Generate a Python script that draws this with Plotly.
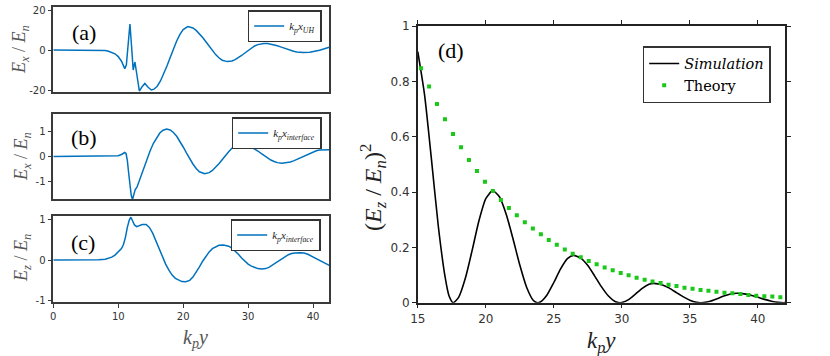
import plotly.graph_objects as go

# ---- data ----
# (a) E_x/E_n, k_p x_UH
ya_x = [0, 4, 7, 8, 8.5, 9, 9.5, 10, 10.5, 10.8, 11.0, 11.25, 11.5, 11.8, 12.05, 12.3, 12.57, 12.83, 13.05, 13.25,
        13.7, 14.1, 14.6, 15.1, 15.5, 16, 16.5, 17, 17.5, 18, 18.5, 19, 19.5, 20, 20.7, 21.5, 22, 22.5, 23, 23.5,
        24, 24.5, 25, 25.5, 26, 26.8, 27.5, 28, 28.5, 29, 29.5, 30, 30.5, 31, 31.5, 32.4, 33, 33.5, 34, 34.5,
        35, 35.5, 36, 36.5, 37, 37.5, 38.5, 39.5, 40, 40.5, 41, 41.5, 42, 42.5]
ya_val = [0, 0, -0.1, -0.3, -0.6, -1.1, -1.9, -3.3, -5.6, -7.8, -9.3, -7.5, 1, 13, 2, -10, -6, -10.8, -15, -20.5,
          -18.2, -16.7, -18.6, -20, -19.6, -18.1, -15.5, -12.1, -8.0, -3.7, 0.6, 4.5, 7.8, 10.2, 11.7, 11.0, 9.8, 8.2, 6.25, 4.1,
          1.8, -0.35, -2.3, -3.9, -5.1, -5.8, -5.45, -4.8, -3.9, -2.75, -1.5, -0.25, 0.95, 2.0, 2.7, 3.3, 3.2, 2.95, 2.55, 2.1,
          1.55, 0.95, 0.35, -0.2, -0.65, -1.0, -1.3, -1.15, -0.9, -0.55, -0.1, 0.4, 0.9, 1.4]

# (b) E_x/E_n, k_p x_interface
yb_x = [0, 9, 9.5, 10, 10.5, 11.0, 11.2, 11.4, 11.6, 11.8, 12.0, 12.2, 12.4, 12.6, 12.9, 13.2, 13.6, 14.0, 14.4, 14.9,
        15.4, 15.9, 16.4, 16.9, 17.45, 18, 18.5, 19, 19.5, 20, 20.5, 21, 21.5, 22, 22.5, 23.3, 24, 24.5, 25, 25.5,
        26, 26.5, 27, 27.5, 28, 28.9, 29.5, 30, 30.5, 31, 31.5, 32, 32.5, 33, 33.5, 34, 34.5, 35.2, 36, 36.5,
        37, 37.5, 38, 38.5, 39, 39.5, 40, 40.5, 41, 41.8, 42.5]
yb_val = [0, 0, 0.01, 0.03, 0.08, 0.16, 0.12, -0.15, -0.65, -1.15, -1.55, -1.72, -1.45, -1.33, -1.22, -1.0, -0.7, -0.42, -0.13, 0.22,
          0.52, 0.76, 0.94, 1.05, 1.1, 1.06, 0.96, 0.81, 0.61, 0.38, 0.145, -0.09, -0.3, -0.48, -0.61, -0.69, -0.645, -0.56, -0.44, -0.29,
          -0.13, 0.04, 0.19, 0.33, 0.43, 0.5, 0.48, 0.44, 0.38, 0.31, 0.22, 0.125, 0.03, -0.06, -0.14, -0.2, -0.245, -0.27, -0.25, -0.22,
          -0.175, -0.12, -0.06, 0.005, 0.07, 0.13, 0.185, 0.23, 0.26, 0.28, 0.27]

# (c) E_z/E_n, k_p x_interface
yc_x = [0, 6, 7, 8, 8.5, 9, 9.5, 10, 10.5, 10.8, 11.1, 11.4, 11.7, 11.95, 12.2, 12.5, 12.83, 13.2, 13.7, 14.3,
        14.8, 15.3, 15.8, 16.3, 16.8, 17.3, 17.8, 18.3, 18.8, 19.3, 19.8, 20.4, 21, 21.5, 22, 22.5, 23, 23.5, 24, 24.5,
        25, 25.5, 26.2, 27, 27.5, 28, 28.5, 29, 29.5, 30, 30.5, 31, 31.5, 32.1, 32.7, 33.2, 33.7, 34.2, 34.7, 35.2,
        35.7, 36.2, 36.7, 37.2, 38.0, 38.6, 39.2, 39.7, 40.2, 40.7, 41.2, 41.7, 42.5]
yc_val = [0, 0, 0.005, 0.02, 0.04, 0.07, 0.12, 0.19, 0.28, 0.38, 0.55, 0.8, 0.98, 1.05, 0.96, 0.86, 0.82, 0.84, 0.87, 0.87,
          0.8, 0.66, 0.47, 0.27, 0.08, -0.1, -0.25, -0.37, -0.45, -0.5, -0.53, -0.535, -0.5, -0.42, -0.31, -0.17, -0.03, 0.1, 0.2, 0.28,
          0.33, 0.36, 0.37, 0.34, 0.29, 0.22, 0.14, 0.05, -0.03, -0.1, -0.15, -0.19, -0.21, -0.22, -0.21, -0.18, -0.13, -0.08, -0.02, 0.04,
          0.09, 0.13, 0.16, 0.175, 0.18, 0.17, 0.14, 0.1, 0.06, 0.01, -0.03, -0.08, -0.13]

# (d) (E_z/E_n)^2 simulation and theory
sim_x = [15, 15.5, 16, 16.5, 17, 17.3, 17.6, 18, 18.5, 19, 19.5, 20, 20.5, 21, 21.5, 22, 22.5, 23, 23.5, 23.8,
         24, 24.5, 25, 25.5, 26, 26.45, 27, 27.5, 28, 28.5, 29, 29.5, 29.85, 30, 30.5, 31, 31.5, 32, 32.35, 33,
         33.5, 34, 34.5, 35, 35.5, 35.8, 36, 36.5, 37, 37.5, 38, 38.45, 39, 39.5, 40, 40.5, 41, 41.5, 41.9, 42]
sim_val = [0.907, 0.75, 0.52, 0.28, 0.095, 0.024, 0, 0.019, 0.089, 0.19, 0.297, 0.376, 0.405, 0.383, 0.32, 0.231, 0.136, 0.056, 0.008, 0,
           0.0024, 0.028, 0.073, 0.122, 0.159, 0.171, 0.16, 0.134, 0.097, 0.058, 0.025, 0.0044, 0, 0.0006, 0.011, 0.031, 0.052, 0.067, 0.07, 0.064,
           0.0525, 0.037, 0.022, 0.009, 0.0013, 0, 0.0005, 0.0055, 0.0145, 0.024, 0.0316, 0.034, 0.032, 0.027, 0.02, 0.012, 0.0054, 0.0011, 0, 0.0003]

theo_x = [15.24, 15.83, 16.41, 17.0, 17.59, 18.18, 18.76, 19.35, 19.94, 20.52, 21.11, 21.70, 22.28, 22.87, 23.46, 24.05,
          24.63, 25.22, 25.81, 26.39, 26.98, 27.57, 28.15, 28.74, 29.33, 29.92, 30.50, 31.09, 31.68, 32.26, 32.85, 33.44,
          34.02, 34.61, 35.20, 35.79, 36.37, 36.96, 37.55, 38.13, 38.72, 39.31, 39.89, 40.48, 41.07, 41.66]
theo_val = [0.847, 0.781, 0.718, 0.663, 0.610, 0.562, 0.516, 0.476, 0.437, 0.404, 0.371, 0.342, 0.316, 0.291, 0.268, 0.247,
            0.227, 0.209, 0.192, 0.177, 0.164, 0.151, 0.139, 0.127, 0.117, 0.107, 0.099, 0.090, 0.083, 0.077, 0.071, 0.065,
            0.060, 0.054, 0.050, 0.046, 0.043, 0.040, 0.036, 0.034, 0.031, 0.028, 0.025, 0.023, 0.022, 0.020]

ticks_a = [-20, 0, 20]
ticks_a_txt = ['-20', '0', '20']
ticks_bc = [-1, 0, 1]
ticks_bc_txt = ['-1', '0', '1']
ticks_x_left = [0, 10, 20, 30, 40]

W, H = 830, 356
BLUE = '#0072BD'
GREEN = '#19c819'
SERIF = 'Liberation Serif'
SANS = 'DejaVu Sans'

fig = go.Figure()

fig.add_trace(go.Scatter(x=ya_x, y=ya_val, mode='lines', line=dict(color=BLUE, width=1.5),
                         name='<i>k<sub>p</sub>x<sub>UH</sub></i>', xaxis='x', yaxis='y', legend='legend'))
fig.add_trace(go.Scatter(x=yb_x, y=yb_val, mode='lines', line=dict(color=BLUE, width=1.5),
                         name='<i>k<sub>p</sub>x<sub>interface</sub></i>', xaxis='x2', yaxis='y2', legend='legend2'))
fig.add_trace(go.Scatter(x=yc_x, y=yc_val, mode='lines', line=dict(color=BLUE, width=1.5),
                         name='<i>k<sub>p</sub>x<sub>interface</sub></i>', xaxis='x3', yaxis='y3', legend='legend3'))
fig.add_trace(go.Scatter(x=sim_x, y=sim_val, mode='lines', line=dict(color='black', width=1.6, shape='spline', smoothing=0.6),
                         name='<i>Simulation</i>', xaxis='x4', yaxis='y4', legend='legend4'))
fig.add_trace(go.Scatter(x=theo_x, y=theo_val, mode='markers', marker=dict(color=GREEN, size=4, symbol='square'),
                         name='Theory', xaxis='x4', yaxis='y4', legend='legend4'))

frame = dict(showline=True, mirror=True, linecolor='#3a3a3a', linewidth=1.5, showgrid=False, zeroline=False,
             tickcolor='#3a3a3a', ticklen=4, tickwidth=1.2, automargin=False,
             tickfont=dict(family=SANS, size=10, color='#333'))

xl_dom = [53.3 / W, 329.3 / W]


def ydom(top, bot):
    return [1 - bot / H, 1 - top / H]


layout = dict(
    width=W, height=H, margin=dict(l=0, r=0, t=0, b=0, autoexpand=False),
    paper_bgcolor='white', plot_bgcolor='white',
    xaxis=dict(frame, domain=xl_dom, range=[0, 42.5], anchor='y', ticks='', showticklabels=False),
    yaxis=dict(frame, domain=ydom(7, 92), range=[-21, 21.5], anchor='x', ticks='outside',
               tickvals=ticks_a, ticktext=ticks_a_txt),
    xaxis2=dict(frame, domain=xl_dom, range=[0, 42.5], anchor='y2', ticks='', showticklabels=False),
    yaxis2=dict(frame, domain=ydom(114, 199), range=[-1.7, 1.7], anchor='x2', ticks='outside',
                tickvals=ticks_bc, ticktext=ticks_bc_txt),
    xaxis3=dict(frame, domain=xl_dom, range=[0, 42.5], anchor='y3', ticks='outside', tickvals=ticks_x_left),
    yaxis3=dict(frame, domain=ydom(216, 302), range=[-1.03, 1.08], anchor='x3', ticks='outside',
                tickvals=ticks_bc, ticktext=ticks_bc_txt),
    xaxis4=dict(frame, domain=[417.8 / W, 785 / W], range=[15, 42], anchor='y4', ticks='outside', dtick=5,
                mirror='ticks', linecolor='#222', tickcolor='#222',
                tickfont=dict(family=SANS, size=12, color='#333')),
    yaxis4=dict(frame, domain=ydom(26, 302.7), range=[0, 1], anchor='x4', ticks='outside', dtick=0.2,
                mirror='ticks', linecolor='#222', tickcolor='#222',
                tickfont=dict(family=SANS, size=12, color='#333')),
    showlegend=True,
)

leg = dict(bgcolor='white', bordercolor='#333', borderwidth=1.5, xanchor='right', yanchor='top',
           font=dict(family=SERIF, size=11, color='#222'), tracegroupgap=0, itemwidth=30)
layout['legend'] = dict(leg, x=321.7 / W, y=1 - 10 / H)
layout['legend2'] = dict(leg, x=321.7 / W, y=1 - 117 / H)
layout['legend3'] = dict(leg, x=320.7 / W, y=1 - 219 / H)
layout['legend4'] = dict(leg, x=770.7 / W, y=1 - 46 / H,
                         font=dict(family='DejaVu Serif', size=14.5, color='black'))

fig.update_layout(**layout)


def note(text, px, py, size, color='#222', angle=0, family=SERIF):
    fig.add_annotation(text=text, x=px / W, y=1 - py / H, xref='paper', yref='paper', showarrow=False,
                       xanchor='center', yanchor='middle', textangle=angle,
                       font=dict(family=family, size=size, color=color))


for lab, px, py in [('(a)', 84, 32), ('(b)', 84, 138), ('(c)', 83, 242), ('(d)', 451, 51)]:
    note(lab, px, py, 22, color='black')

ytit = '<i>E<sub>x</sub></i> / <i>E<sub>n</sub></i>'
note(ytit, 20, 50, 18, color='#555', angle=-90)
note(ytit, 22, 157, 18, color='#555', angle=-90)
note('<i>E<sub>z</sub></i> / <i>E<sub>n</sub></i>', 22, 258, 18, color='#555', angle=-90)
note('<i>k<sub>p</sub>y</i>', 195, 338, 20, color='#555')
note('(<i>E<sub>z</sub></i> / <i>E<sub>n</sub></i>)<sup>2</sup>', 373, 188, 24, color='#222', angle=-90)
note('<i>k<sub>p</sub>y</i>', 601, 342, 23, color='#222')

# the page body has a default 8px margin; drop it so the figure sits at the window corner
fig.write_html("out.html", config={'displayModeBar': False},
               post_script="document.body.style.margin='0';")
